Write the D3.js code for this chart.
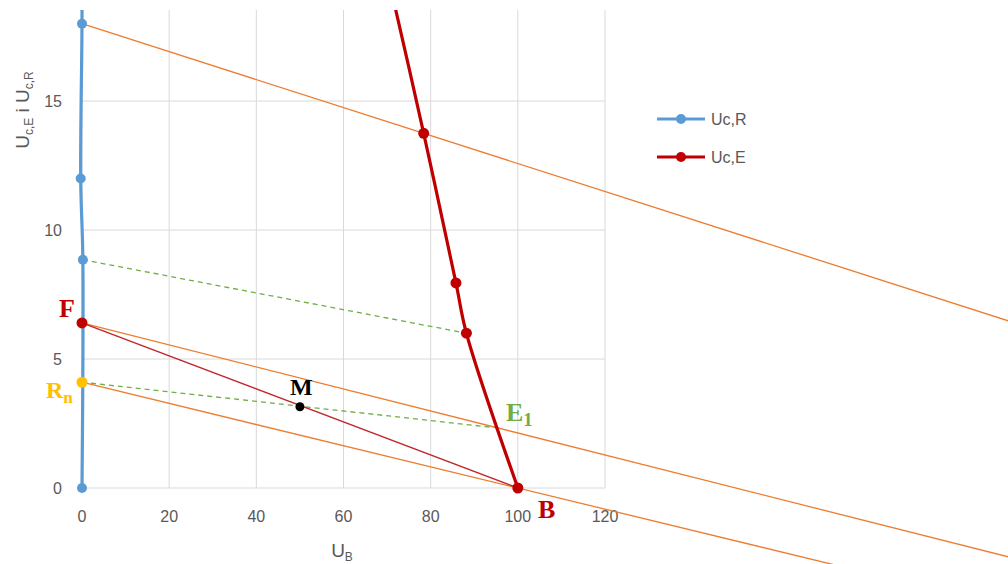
<!DOCTYPE html>
<html>
<head>
<meta charset="utf-8">
<script src="https://cdn.jsdelivr.net/npm/d3@7"></script>
<style>
  body { margin: 0; background: #fff; }
  svg { font-family: "Liberation Sans", Arial, sans-serif; }
</style>
</head>
<body>
<script>
// series Uc,R (blue) and Uc,E (red)
const ucrX = [0, 0.2, -0.3, 0, 0];
const ucrY = [0, 8.85, 12, 18, 21];
const ucrMarks = 4; // last point is above the visible area
const uceX = [100, 88.2, 85.8, 78.4, 70];
const uceY = [0, 6, 7.95, 13.75, 20];
const uceMarks = 4;

// construction lines [x1, y1, x2, y2] in data units
const orangeLines = [[0, 18, 78.4, 13.75], [0, 6.4, 150, 0], [0, 4.1, 100, 0]];
const greenDashed = [[0.2, 8.85, 88.2, 6], [0, 4.1, 95.3, 2.33]];
const redThin = [[0, 6.4, 100, 0]];

// labelled points
const pointNames = ["F", "Rn", "M"];
const pointX = [0, 0, 50];
const pointY = [6.4, 4.1, 3.15];

const xTicks = [0, 20, 40, 60, 80, 100, 120];
const yTicks = [0, 5, 10, 15];

const W = 1008, H = 564;
const svg = d3.select("body").append("svg").attr("width", W).attr("height", H);

const x = d3.scaleLinear().domain([0, 120]).range([82, 605]);
const y = d3.scaleLinear().domain([0, 18.53]).range([488, 10]);

// grid
svg.append("g").selectAll("line").data(xTicks).enter().append("line")
  .attr("x1", d => x(d)).attr("x2", d => x(d))
  .attr("y1", y(18.53)).attr("y2", y(0))
  .attr("stroke", "#d9d9d9").attr("stroke-width", 1);
svg.append("g").selectAll("line").data(yTicks).enter().append("line")
  .attr("x1", x(0)).attr("x2", x(120))
  .attr("y1", d => y(d)).attr("y2", d => y(d))
  .attr("stroke", "#d9d9d9").attr("stroke-width", 1);

// tick labels
svg.append("g").selectAll("text").data(xTicks).enter().append("text")
  .attr("x", d => x(d)).attr("y", 522)
  .attr("text-anchor", "middle").attr("font-size", 16).attr("fill", "#595959")
  .text(d => d);
svg.append("g").selectAll("text").data(yTicks).enter().append("text")
  .attr("x", 62).attr("y", d => y(d) + 6)
  .attr("text-anchor", "end").attr("font-size", 16).attr("fill", "#595959")
  .text(d => d);

// axis titles
const xt = svg.append("text").attr("x", 342).attr("y", 557)
  .attr("text-anchor", "middle").attr("font-size", 19).attr("fill", "#595959");
xt.append("tspan").text("U");
xt.append("tspan").attr("font-size", 12).attr("dy", 4).text("B");

const yt = svg.append("text")
  .attr("transform", "translate(29,110) rotate(-90)")
  .attr("text-anchor", "middle").attr("font-size", 19).attr("fill", "#595959");
yt.append("tspan").text("U");
yt.append("tspan").attr("font-size", 12).attr("dy", 4).text("c,E");
yt.append("tspan").attr("dy", -4).text(" i U");
yt.append("tspan").attr("font-size", 12).attr("dy", 4).text("c,R");

// construction lines (not clipped, run to the picture edge)
function extend(l, xEnd) {
  const s = (l[3] - l[1]) / (l[2] - l[0]);
  return [l[0], l[1], xEnd, l[1] + s * (xEnd - l[0])];
}
svg.append("g").selectAll("line").data(orangeLines.map(l => extend(l, 240))).enter().append("line")
  .attr("x1", d => x(d[0])).attr("y1", d => y(d[1]))
  .attr("x2", d => x(d[2])).attr("y2", d => y(d[3]))
  .attr("stroke", "#ED7D31").attr("stroke-width", 1.3);
svg.append("g").selectAll("line").data(greenDashed).enter().append("line")
  .attr("x1", d => x(d[0])).attr("y1", d => y(d[1]))
  .attr("x2", d => x(d[2])).attr("y2", d => y(d[3]))
  .attr("stroke", "#70AD47").attr("stroke-width", 1.3).attr("stroke-dasharray", "5,4");
svg.append("g").selectAll("line").data(redThin).enter().append("line")
  .attr("x1", d => x(d[0])).attr("y1", d => y(d[1]))
  .attr("x2", d => x(d[2])).attr("y2", d => y(d[3]))
  .attr("stroke", "#C0272D").attr("stroke-width", 1.4);

// series, clipped at the top of the plot area
svg.append("clipPath").attr("id", "clip").append("rect")
  .attr("x", -50).attr("y", 10).attr("width", W + 100).attr("height", H);

const line = d3.line().x(d => x(d[0])).y(d => y(d[1])).curve(d3.curveCatmullRom.alpha(0.5));
const ucr = ucrX.map((v, i) => [v, ucrY[i]]);
const uce = uceX.map((v, i) => [v, uceY[i]]);

const series = svg.append("g").attr("clip-path", "url(#clip)");
series.append("path").datum(ucr).attr("d", line)
  .attr("fill", "none").attr("stroke", "#5B9BD5").attr("stroke-width", 3.2);
series.append("path").datum(uce).attr("d", line)
  .attr("fill", "none").attr("stroke", "#C00000").attr("stroke-width", 3.2);
series.selectAll(".mr").data(ucr.slice(0, ucrMarks)).enter().append("circle")
  .attr("cx", d => x(d[0])).attr("cy", d => y(d[1])).attr("r", 5).attr("fill", "#5B9BD5");
series.selectAll(".me").data(uce.slice(0, uceMarks)).enter().append("circle")
  .attr("cx", d => x(d[0])).attr("cy", d => y(d[1])).attr("r", 5.5).attr("fill", "#C00000");

// labelled points
const pointColors = ["#C00000", "#FFC000", "#000000"];
svg.append("g").selectAll("circle").data(pointNames).enter().append("circle")
  .attr("cx", (d, i) => x(pointX[i])).attr("cy", (d, i) => y(pointY[i]))
  .attr("r", (d, i) => i === 2 ? 4.5 : 5.5).attr("fill", (d, i) => pointColors[i]);

function label(txt, sub, px, py, size, color) {
  const t = svg.append("text").attr("x", px).attr("y", py)
    .style("font-family", "'Liberation Serif', 'DejaVu Serif', serif").attr("font-weight", "bold")
    .attr("font-size", size).attr("fill", color);
  t.append("tspan").text(txt);
  if (sub) t.append("tspan").attr("font-size", size * 0.72).attr("dy", size * 0.2).text(sub);
}
label("F", null, 59, 317, 26, "#C00000");
label("R", "n", 46, 398, 24, "#FFC000");
label("M", null, 290, 395, 24, "#000000");
label("E", "1", 506, 421, 26, "#70AD47");
label("B", null, 538, 518, 26, "#C00000");

// legend
const legNames = ["Uc,R", "Uc,E"];
const legColors = ["#5B9BD5", "#C00000"];
const leg = svg.append("g").selectAll("g").data(legNames).enter().append("g")
  .attr("transform", (d, i) => `translate(657,${119 + i * 38})`);
leg.append("line").attr("x1", 0).attr("x2", 48).attr("stroke-width", 3.2)
  .attr("stroke", (d, i) => legColors[i]);
leg.append("circle").attr("cx", 24).attr("r", 5).attr("fill", (d, i) => legColors[i]);
leg.append("text").attr("x", 54).attr("y", 6).attr("font-size", 16).attr("fill", "#595959")
  .text(d => d);
</script>
</body>
</html>
